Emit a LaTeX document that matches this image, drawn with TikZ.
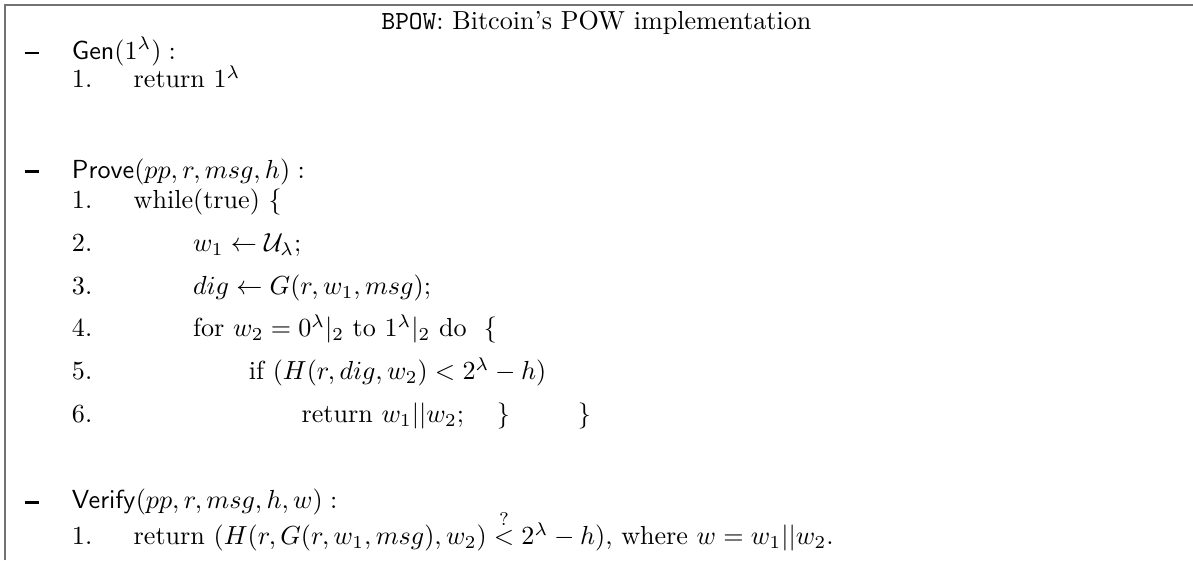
\documentclass[tikz,border=0pt]{standalone}
\usepackage{amsmath,amssymb}
\usepackage{tikz}
\usetikzlibrary{positioning}
\tikzset{
  % ramen och raderna
  frameline/.style={draw=black!55,line width=0.7pt},
  ln/.style={anchor=base west,inner sep=0pt,outer sep=0pt},
  num/.style={ln},
  bullet/.style={ln},
}
\newcommand{\heavydash}{\rule[1.9pt]{5.6pt}{1.1pt}}
\begin{document}
\begin{tikzpicture}
\useasboundingbox (0,-7.54) rectangle (16.06,0);
  \coordinate (fl) at (0.067,-7.54);
  \coordinate (fr) at (16.06,-0.067);
  \draw[frameline] (fl) |- (fr);
  \node[anchor=base,inner sep=0pt] (title) at (8.03,-0.40)
    {\texttt{BPOW}: Bitcoin's POW implementation};
  % Gen
  \node[bullet] (d1) at (0.33,-0.80) {\heavydash};
  \node[ln] (gen) at (0.969,-0.80) {$\mathsf{Gen}(1^\lambda):$};
  \node[num] (g1) at (0.969,-1.18) {1.};
  \node[ln] (g1t) at (1.80,-1.18) {return $1^\lambda$};
  % Prove
  \node[bullet] (d2) at (0.33,-2.40) {\heavydash};
  \node[ln] (prove) at (0.969,-2.40) {$\mathsf{Prove}(pp,r,msg,h):$};
  \foreach \i/\y in {1/-2.81,2/-3.385,3/-3.96,4/-4.535,5/-5.11,6/-5.685}
    \node[num] (p\i) at (0.969,\y) {\i.};
  \node[ln] (p1t) at (1.80,-2.81) {while(true) \{};
  \node[ln] (p2t) at (2.60,-3.385) {$w_1 \leftarrow \mathcal{U}_\lambda$;};
  \node[ln] (p3t) at (2.60,-3.96) {$dig \leftarrow G(r,w_1,msg)$;};
  \node[ln] (p4t) at (2.60,-4.535) {for $w_2 = 0^\lambda|_2$ to $1^\lambda|_2$ do \ \{};
  \node[ln] (p5t) at (3.35,-5.11) {if $(H(r,dig,w_2) < 2^\lambda - h)$};
  \node[ln] (p6t) at (4.06,-5.685) {return $w_1||w_2$;};
  \node[ln] (b1) at (6.69,-5.685) {\}};
  \node[ln] (b2) at (7.78,-5.685) {\}};
  % Verify
  \node[bullet] (d3) at (0.33,-6.85) {\heavydash};
  \node[ln] (verify) at (0.969,-6.85) {$\mathsf{Verify}(pp,r,msg,h,w):$};
  \node[num] (v1) at (0.969,-7.33) {1.};
  \node[ln] (v1t) at (1.80,-7.33)
    {return $(H(r,G(r,w_1,msg),w_2) \stackrel{?}{<} 2^\lambda - h)$, where $w = w_1||w_2$.};
\end{tikzpicture}
\end{document}
